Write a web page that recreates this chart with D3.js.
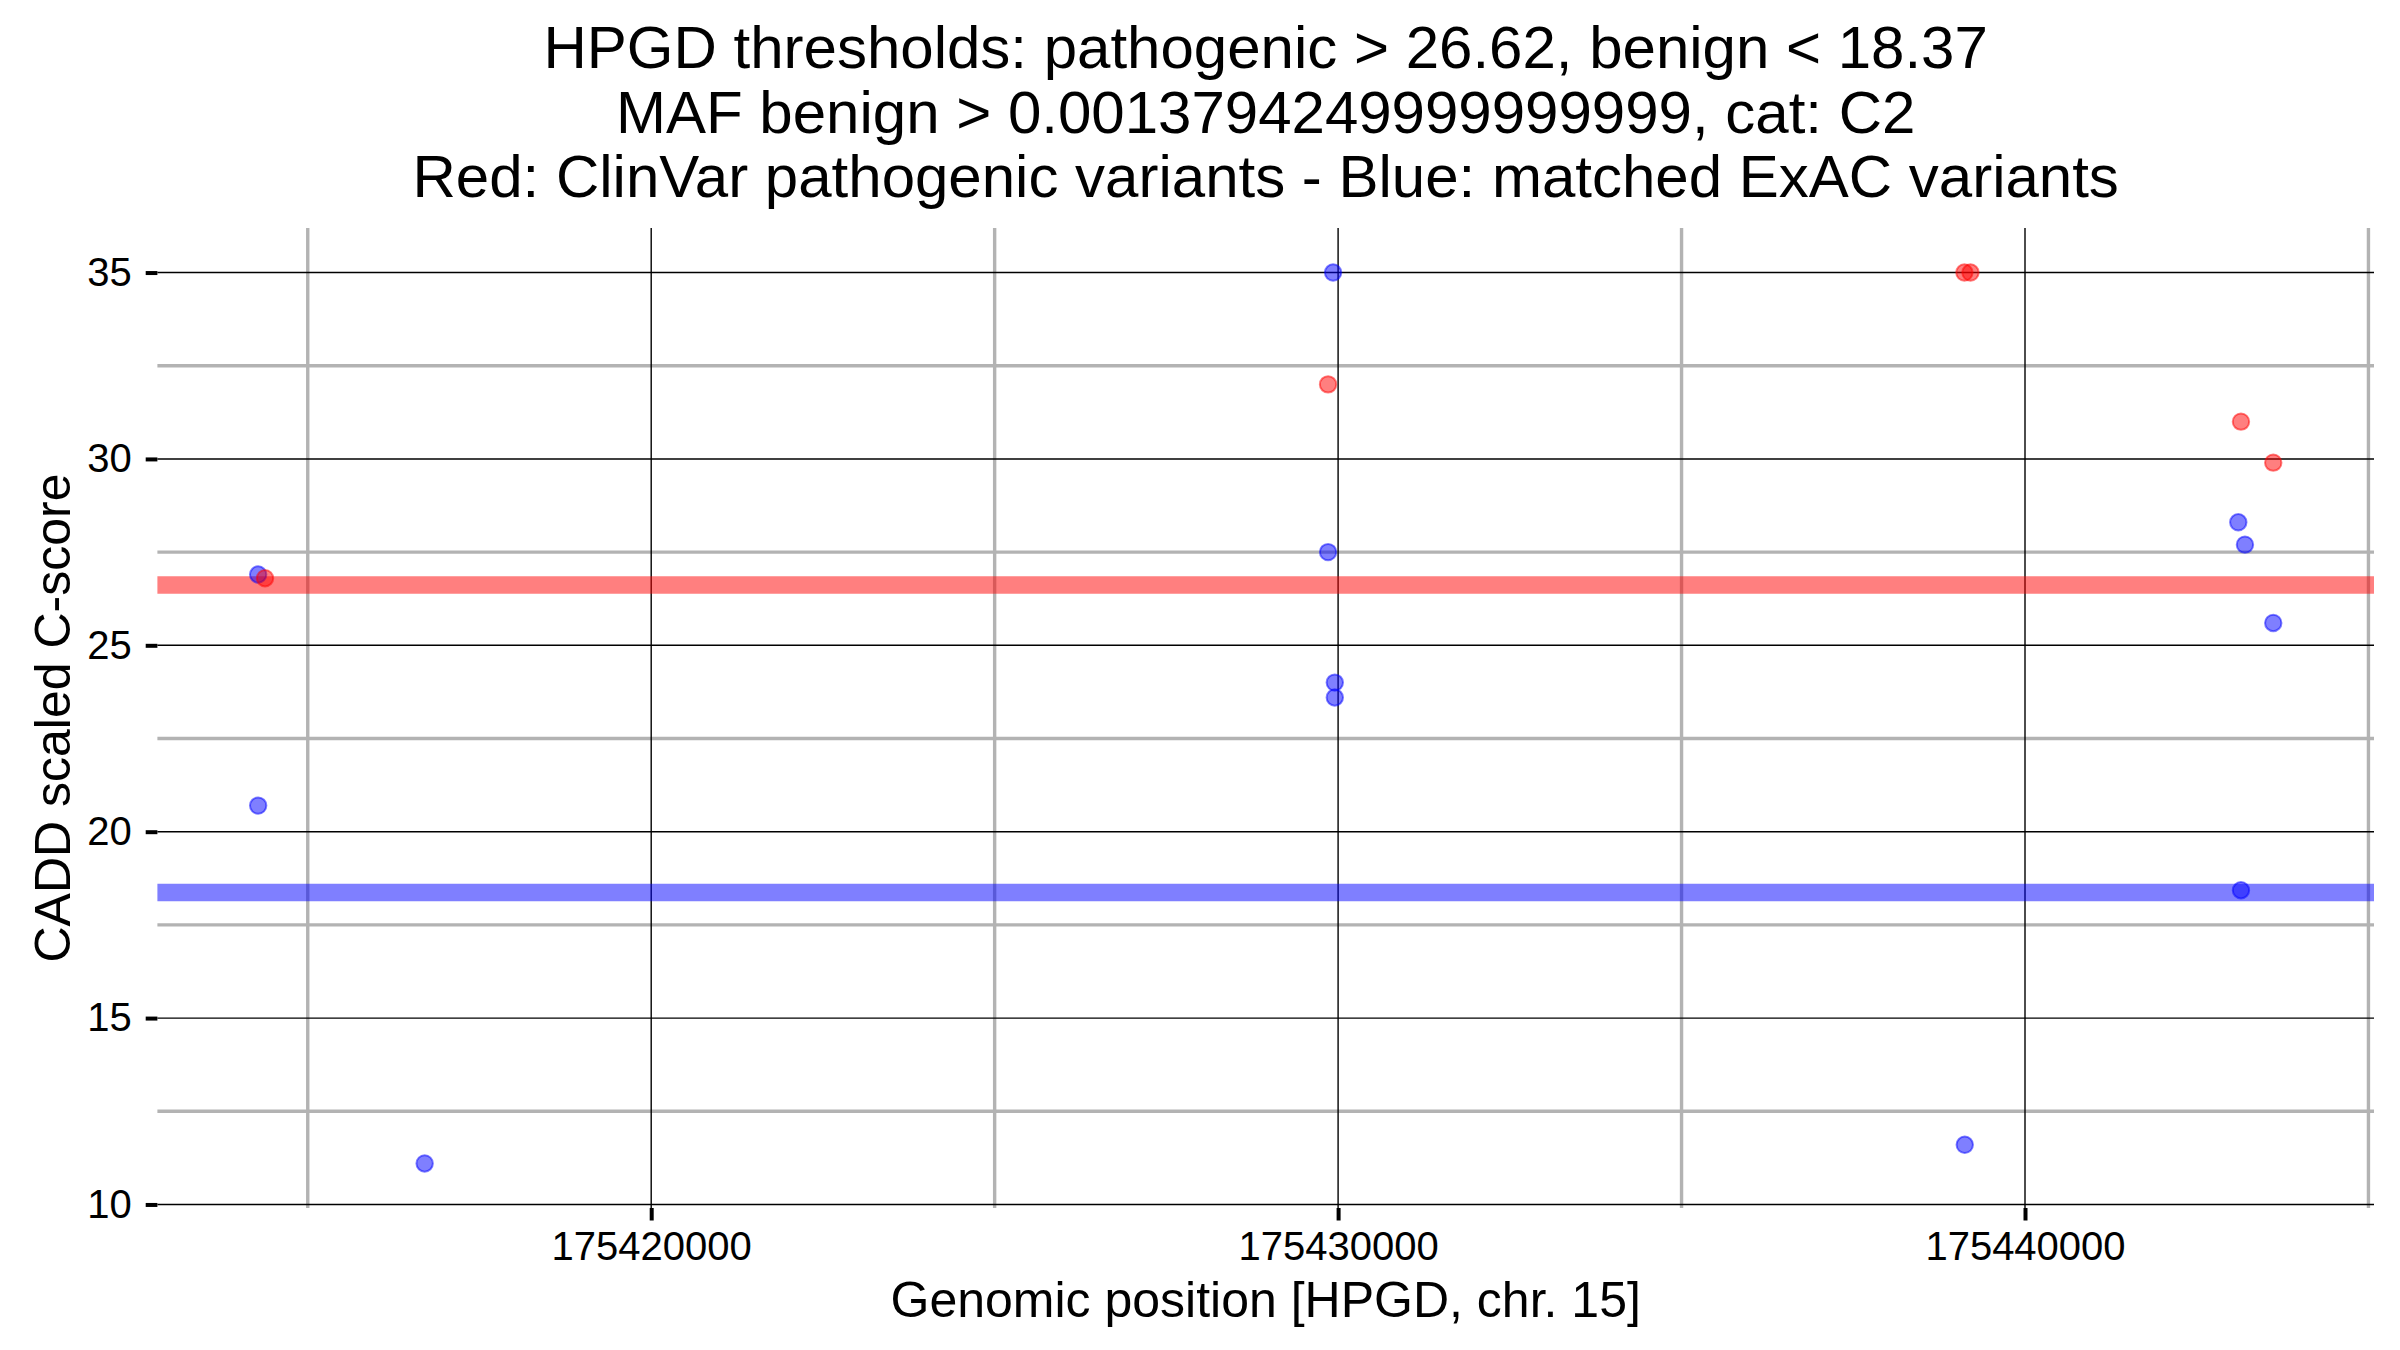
<!DOCTYPE html>
<html>
<head>
<meta charset="utf-8">
<script src="https://cdn.jsdelivr.net/npm/d3@7"></script>
<style>
  body { margin: 0; background: #fff; }
  text { font-family: "Liberation Sans", Arial, Helvetica, sans-serif; fill: #000; }
</style>
</head>
<body>
<div id="my_dataviz"></div>
<script>
// blue: matched ExAC variants
var exacPos   = [175414278, 175414278, 175416702, 175429927, 175429854, 175429952,
                 175429952, 175439123, 175443105, 175443202, 175443614, 175443144];
var exacScore = [26.9, 20.7, 11.1, 35, 27.5, 24.0, 23.6, 11.6, 28.3, 27.7, 25.6, 18.43];

// red: ClinVar pathogenic variants
var clinvarPos   = [175414378, 175429854, 175439118, 175439206, 175443144, 175443614];
var clinvarScore = [26.8, 32, 35, 35, 31, 29.9];

// thresholds
var pathoThreshold = 26.62,
    benignThreshold = 18.37;

var yTicks = [10, 15, 20, 25, 30, 35];
var xTicks = [175420000, 175430000, 175440000];

var titleLines = [
    "HPGD thresholds: pathogenic > 26.62, benign < 18.37",
    "MAF benign > 0.0013794249999999999, cat: C2",
    "Red: ClinVar pathogenic variants - Blue: matched ExAC variants"
];

var W = 2400, H = 1350;
var margin = {top: 228, right: 26, bottom: 142, left: 157.4},
    width = W - margin.left - margin.right,
    height = H - margin.top - margin.bottom;

var svg = d3.select("#my_dataviz")
    .append("svg")
    .attr("width", W)
    .attr("height", H);

var g = svg.append("g")
    .attr("transform", "translate(" + margin.left + "," + margin.top + ")");

// ggplot style 5% expansion on both scales
function expand(ext) {
    var pad = (ext[1] - ext[0]) * 0.05;
    return [ext[0] - pad, ext[1] + pad];
}
var allPos = exacPos.concat(clinvarPos),
    allScore = exacScore.concat(clinvarScore, [pathoThreshold, benignThreshold]);

var x = d3.scaleLinear().domain(expand(d3.extent(allPos))).range([0, width]);
var y = d3.scaleLinear().domain(expand(d3.extent(allScore))).range([height, 0]);

// minor breaks halfway between the major ones
function minors(ticks, scale) {
    var step = ticks[1] - ticks[0], dom = scale.domain(), out = [];
    for (var v = ticks[0] - step / 2; v <= dom[1]; v += step) {
        if (v >= dom[0]) out.push(v);
    }
    return out;
}

// minor grid
g.append("g").selectAll("line")
    .data(minors(yTicks, y))
    .enter().append("line")
    .attr("x1", 0).attr("x2", width)
    .attr("y1", function(d) { return y(d); })
    .attr("y2", function(d) { return y(d); })
    .style("stroke", "#b3b3b3").style("stroke-width", 3.4);
g.append("g").selectAll("line")
    .data(minors(xTicks, x))
    .enter().append("line")
    .attr("y1", 0).attr("y2", height)
    .attr("x1", function(d) { return x(d); })
    .attr("x2", function(d) { return x(d); })
    .style("stroke", "#b3b3b3").style("stroke-width", 3.4);

// major grid
g.append("g").selectAll("line")
    .data(yTicks)
    .enter().append("line")
    .attr("x1", 0).attr("x2", width)
    .attr("y1", function(d) { return y(d); })
    .attr("y2", function(d) { return y(d); })
    .style("stroke", "#000").style("stroke-width", 1.4);
g.append("g").selectAll("line")
    .data(xTicks)
    .enter().append("line")
    .attr("y1", 0).attr("y2", height)
    .attr("x1", function(d) { return x(d); })
    .attr("x2", function(d) { return x(d); })
    .style("stroke", "#000").style("stroke-width", 1.4);

// threshold bands
var thresholds = [
    {value: pathoThreshold, color: "red"},
    {value: benignThreshold, color: "blue"}
];
g.append("g").selectAll("line")
    .data(thresholds)
    .enter().append("line")
    .attr("x1", 0).attr("x2", width)
    .attr("y1", function(d) { return y(d.value); })
    .attr("y2", function(d) { return y(d.value); })
    .style("stroke", function(d) { return d.color; })
    .style("stroke-opacity", 0.5)
    .style("stroke-width", 17.5);

// points
function drawPoints(pos, score, color) {
    g.append("g").selectAll("circle")
        .data(pos.map(function(p, i) { return {pos: p, score: score[i]}; }))
        .enter().append("circle")
        .attr("cx", function(d) { return x(d.pos); })
        .attr("cy", function(d) { return y(d.score); })
        .attr("r", 8.2)
        .style("fill", color).style("fill-opacity", 0.5)
        .style("stroke", color).style("stroke-opacity", 0.5)
        .style("stroke-width", 2);
}
drawPoints(exacPos, exacScore, "blue");
drawPoints(clinvarPos, clinvarScore, "red");

// axes
var yAxis = g.append("g")
    .call(d3.axisLeft(y).tickValues(yTicks).tickSize(11.7).tickPadding(14));
var xAxis = g.append("g")
    .attr("transform", "translate(0," + height + ")")
    .call(d3.axisBottom(x).tickValues(xTicks).tickFormat(d3.format("d"))
        .tickSize(12.5).tickPadding(11.2));
[yAxis, xAxis].forEach(function(a) {
    a.select(".domain").remove();
    a.selectAll(".tick line").style("stroke", "#000").style("stroke-width", 4);
    a.selectAll(".tick text")
        .style("font-size", "40px")
        .style("font-family", "'Liberation Sans', Arial, sans-serif")
        .attr("fill", "#000");
});

// titles
var cx = margin.left + width / 2;
svg.append("g").selectAll("text")
    .data(titleLines)
    .enter().append("text")
    .text(function(d) { return d; })
    .attr("text-anchor", "middle")
    .style("font-size", "60px")
    .attr("x", cx)
    .attr("y", function(d, i) { return 68.3 + i * 64.5; });

svg.append("text")
    .text("Genomic position [HPGD, chr. 15]")
    .attr("text-anchor", "middle")
    .style("font-size", "50px")
    .attr("x", cx)
    .attr("y", 1316.5);

svg.append("text")
    .text("CADD scaled C-score")
    .attr("text-anchor", "middle")
    .style("font-size", "50px")
    .attr("transform", "translate(70," + (margin.top + height / 2) + ") rotate(-90)");
</script>
</body>
</html>
